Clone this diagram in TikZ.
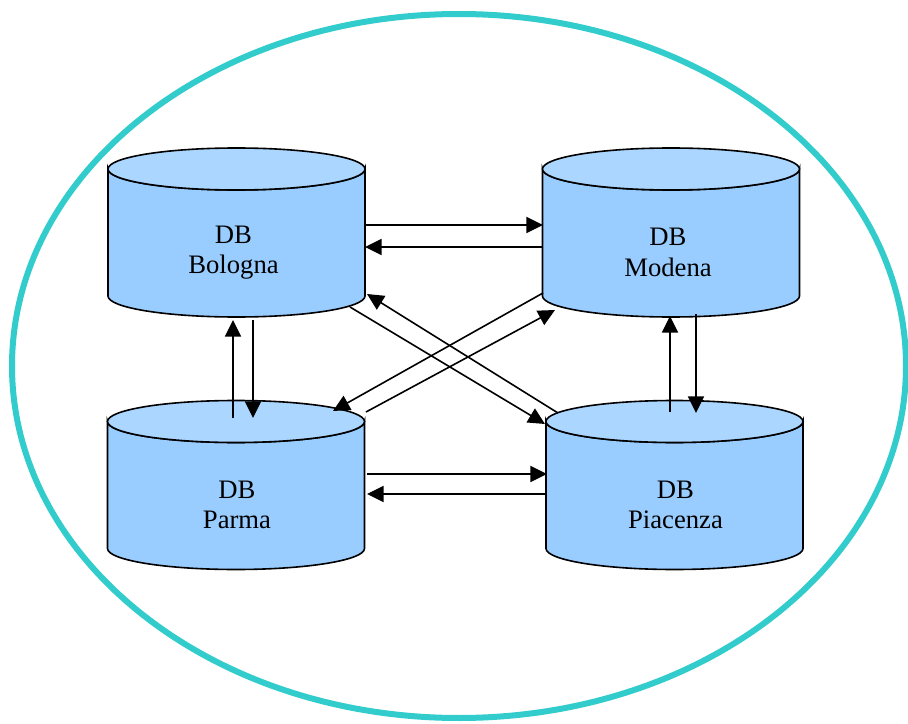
\documentclass[tikz,border=0pt]{standalone}
\usepackage{fontspec}
\setmainfont{Liberation Serif}
\usetikzlibrary{arrows.meta,positioning,calc}

\definecolor{dbside}{RGB}{153,204,255}
\definecolor{dbtop}{RGB}{170,214,255}
\definecolor{ringcol}{RGB}{51,204,204}

\begin{document}
\begin{tikzpicture}[
				x=0.75pt,y=-0.75pt,
				db/.style={rectangle,inner sep=0pt,outer sep=0pt,minimum width=192.75pt,minimum height=126.75pt},
				cylbody/.style={draw,line width=1.2pt,fill=dbside},
				cylcap/.style={draw,line width=1.2pt,fill=dbtop},
				dbname/.style={align=center,inner sep=0pt,font=\fontsize{20}{23}\selectfont},
				link/.style={line width=1.2pt,-{Triangle[length=12.5pt,width=12pt]}},
				ring/.style={draw=ringcol,line width=4.5pt}
			]
			\useasboundingbox (0,0) rectangle (908,724);
			\draw[ring] (459,366) ellipse [x radius=447,y radius=352];

			\node[db] (bol) at (236.5,232.5) {};
			\node[db] (mod) at (671,232.5) {};
			\node[db] (par) at (236,485) {};
			\node[db] (pia) at (674.5,485) {};

			% the database drums
			\foreach \n in {bol,mod,par,pia} {
				\draw[cylbody] ($(\n.north west)+(0,21)$) -- ($(\n.south west)+(0,-21)$)
					arc[start angle=180,end angle=0,x radius=128.5,y radius=21]
					-- ($(\n.north east)+(0,21)$)
					arc[start angle=0,end angle=180,x radius=128.5,y radius=21] -- cycle;
				\draw[cylcap] ($(\n.north)+(0,21)$) ellipse [x radius=128.5,y radius=21];
			}

			\node[dbname] (bolname) at ($(bol.center)+(-3,20)$) {DB\\Bologna};
			\node[dbname] (modname) at ($(mod.center)+(-3,20)$) {DB\\Modena};
			\node[dbname] (parname) at ($(par.center)+(1,20)$) {DB\\Parma};
			\node[dbname] (pianame) at ($(pia.center)+(1,20)$) {DB\\Piacenza};

			% horizontal links
			\draw[link] ($(bol.center)+(128.5,-7.5)$) -- ($(mod.center)+(-128,-7.5)$);
			\draw[link] ($(mod.center)+(-128,14.5)$) -- ($(bol.center)+(128.5,14.5)$);
			\draw[link] ($(par.center)+(131,-11)$) -- ($(pia.center)+(-127.5,-11)$);
			\draw[link] ($(pia.center)+(-127.5,9)$) -- ($(par.center)+(131,9)$);

			% vertical links
			\draw[link] ($(par.center)+(-3,-67)$) -- ($(bol.center)+(-3.5,87.5)$);
			\draw[link] ($(bol.center)+(16.5,87.5)$) -- ($(par.center)+(17,-67)$);
			\draw[link] ($(pia.center)+(-4.5,-73)$) -- ($(mod.center)+(-1,83.5)$);
			\draw[link] ($(mod.center)+(25,81.5)$) -- ($(pia.center)+(21.5,-72)$);

			% diagonal links
			\draw[link] ($(bol.center)+(113.5,74.5)$) -- ($(pia.center)+(-129.5,-61)$);
			\draw[link] ($(pia.center)+(-116.5,-72)$) -- ($(bol.center)+(130.5,61.5)$);
			\draw[link] ($(mod.center)+(-128,60.5)$) -- ($(par.center)+(97,-74)$);
			\draw[link] ($(par.center)+(130,-73)$) -- ($(mod.center)+(-116,77.5)$);
		\end{tikzpicture}
\end{document}
